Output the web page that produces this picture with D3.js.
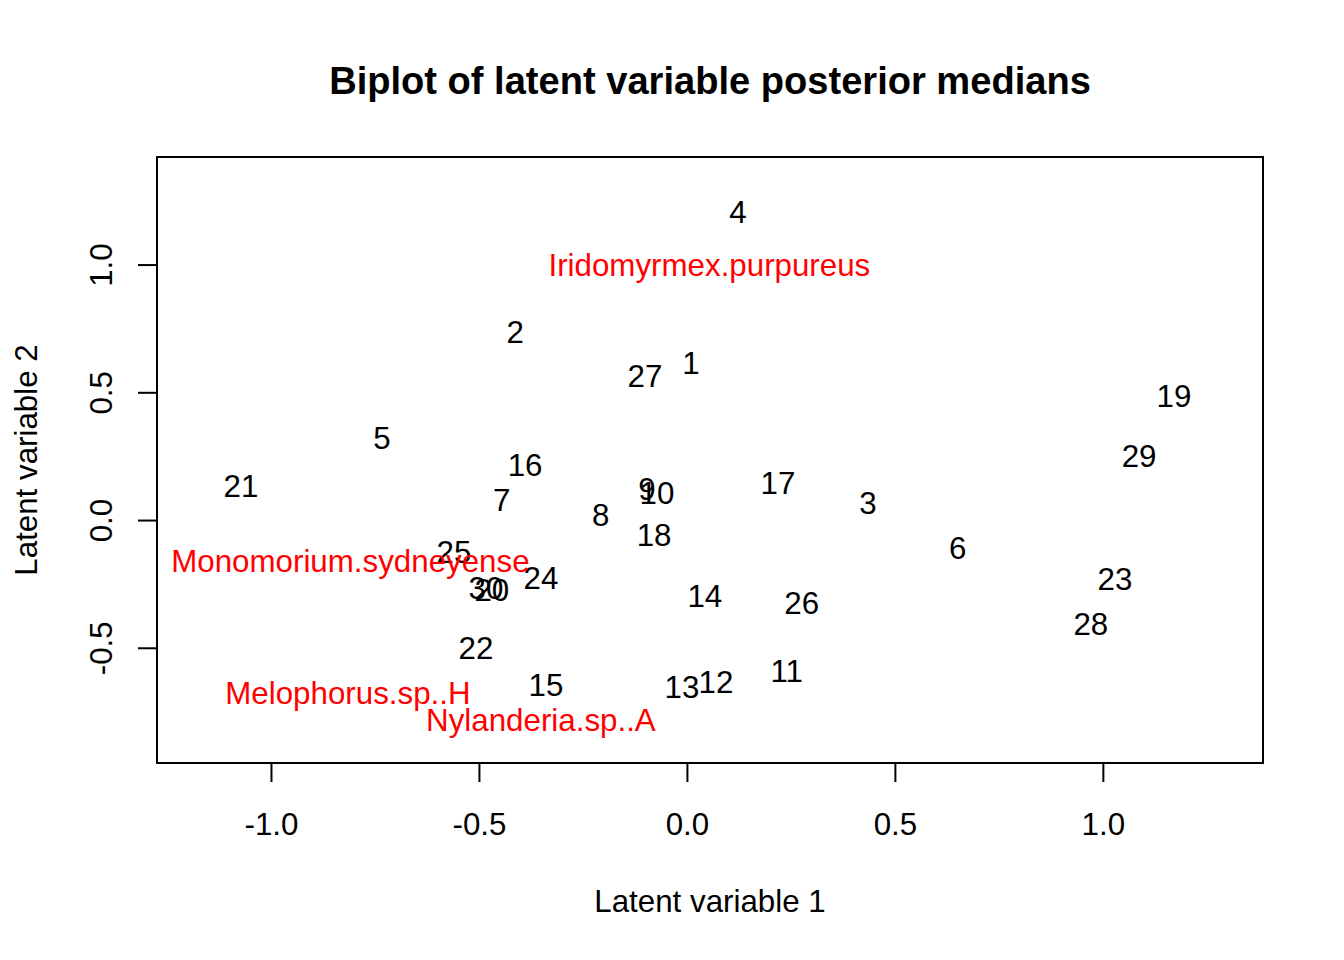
<!DOCTYPE html>
<html>
<head>
<meta charset="utf-8">
<script src="https://cdn.jsdelivr.net/npm/d3@7"></script>
<style>
  html, body { margin: 0; padding: 0; background: #fff; }
  svg { display: block; font-family: "Liberation Sans", Arial, sans-serif; }
</style>
</head>
<body>
<svg id="chart" width="1344" height="960"></svg>
<script>
// ---- data ----
const siteLabels = ["1","2","3","4","5","6","7","8","9","10","11","12","13","14","15","16","17","18","19","20","21","22","23","24","25","26","27","28","29","30"];
const siteLV1 = [0.010,-0.413,0.435,0.123,-0.733,0.651,-0.445,-0.207,-0.096,-0.072,0.240,0.070,-0.012,0.043,-0.339,-0.389,0.219,-0.079,1.171,-0.469,-1.072,-0.507,1.029,-0.351,-0.560,0.276,-0.101,0.971,1.087,-0.483];
const siteLV2 = [0.614,0.736,0.067,1.207,0.321,-0.110,0.078,0.020,0.121,0.106,-0.591,-0.635,-0.654,-0.298,-0.646,0.215,0.145,-0.059,0.486,-0.274,0.133,-0.501,-0.231,-0.227,-0.125,-0.325,0.564,-0.407,0.251,-0.266];
const speciesLabels = ["Iridomyrmex.purpureus","Monomorium.sydneyense","Melophorus.sp..H","Nylanderia.sp..A"];
const speciesLV1 = [0.054,-0.809,-0.815,-0.351];
const speciesLV2 = [0.999,-0.160,-0.677,-0.783];
const xTicks = [-1.0,-0.5,0.0,0.5,1.0];
const yTicks = [-0.5,0.0,0.5,1.0];
const xTickLabels = ["-1.0","-0.5","0.0","0.5","1.0"];
const yTickLabels = ["-0.5","0.0","0.5","1.0"];
const titleText = "Biplot of latent variable posterior medians";
const xLabel = "Latent variable 1";
const yLabel = "Latent variable 2";

// ---- layout ----
const W = 1344, H = 960;
const L = 157, R = 1263, T = 157, B = 763;
const fs = 31.3;
const svg = d3.select("#chart");

const x = d3.scaleLinear().domain([-1.274, 1.385]).range([L, R]);
const y = d3.scaleLinear().domain([-0.951, 1.421]).range([B, T]);

// box
svg.append("rect")
  .attr("x", L).attr("y", T).attr("width", R - L).attr("height", B - T)
  .attr("fill", "none").attr("stroke", "#000").attr("stroke-width", 2);

// x axis
const xAxis = d3.axisBottom(x).tickValues(xTicks)
  .tickFormat((d, i) => xTickLabels[i]).tickSizeInner(19).tickSizeOuter(0);
const gx = svg.append("g").attr("transform", `translate(0,${B})`).call(xAxis);
gx.select(".domain").remove();
gx.selectAll(".tick line").attr("stroke", "#000").attr("stroke-width", 2);
gx.selectAll(".tick text")
  .attr("y", 834.5 - B).attr("dy", 0)
  .attr("fill", "#000").attr("font-size", fs)
  .attr("font-family", "Liberation Sans, Arial, sans-serif");

// y axis
const yAxis = d3.axisLeft(y).tickValues(yTicks)
  .tickFormat((d, i) => yTickLabels[i]).tickSizeInner(19).tickSizeOuter(0);
const gy = svg.append("g").attr("transform", `translate(${L},0)`).call(yAxis);
gy.select(".domain").remove();
gy.selectAll(".tick line").attr("stroke", "#000").attr("stroke-width", 2);
gy.selectAll(".tick text")
  .attr("x", 0).attr("y", 0).attr("dy", 0)
  .attr("text-anchor", "middle")
  .attr("transform", `translate(${111.5 - L},0) rotate(-90)`)
  .attr("fill", "#000").attr("font-size", fs)
  .attr("font-family", "Liberation Sans, Arial, sans-serif");

// titles
svg.append("text").attr("x", (L + R) / 2).attr("y", 93.5)
  .attr("text-anchor", "middle").attr("font-weight", "bold")
  .attr("font-size", 38.1).text(titleText);
svg.append("text").attr("x", (L + R) / 2).attr("y", 911.5)
  .attr("text-anchor", "middle").attr("font-size", fs).text(xLabel);
svg.append("text")
  .attr("transform", `translate(36.5,${(T + B) / 2}) rotate(-90)`)
  .attr("text-anchor", "middle").attr("font-size", fs).text(yLabel);

// site labels
const off = 0.358 * fs;
svg.append("g").selectAll("text")
  .data(siteLabels.map((s, i) => ({ s, a: siteLV1[i], b: siteLV2[i] })))
  .join("text")
  .attr("x", d => x(d.a)).attr("y", d => y(d.b) + off)
  .attr("text-anchor", "middle").attr("font-size", fs).attr("fill", "#000")
  .text(d => d.s);

// species labels
svg.append("g").selectAll("text")
  .data(speciesLabels.map((s, i) => ({ s, a: speciesLV1[i], b: speciesLV2[i] })))
  .join("text")
  .attr("x", d => x(d.a)).attr("y", d => y(d.b) + off)
  .attr("text-anchor", "middle").attr("font-size", fs).attr("fill", "#ff0000")
  .text(d => d.s);
</script>
</body>
</html>
